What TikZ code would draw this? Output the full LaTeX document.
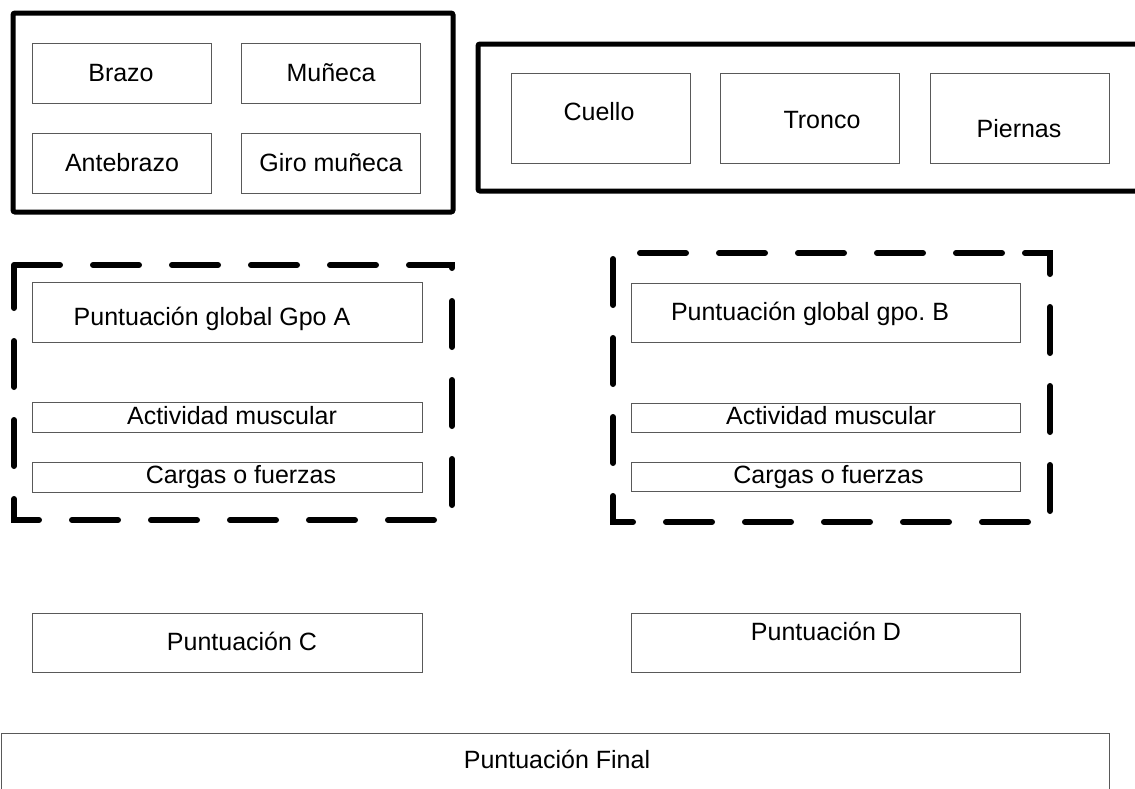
\documentclass[tikz,border=0pt]{standalone}
\usepackage{fontspec}
\setmainfont{Liberation Sans}
\usepackage{tikz}
\usetikzlibrary{positioning}

\tikzset{
  cell/.style    = {draw=black!65, line width=0.8pt, inner sep=0pt},
  txt/.style     = {inner sep=0pt, text height=17.9pt, text depth=0pt,
                    font=\fontsize{25}{29}\selectfont},
  groupbox/.style = {line width=5pt, rounded corners=2pt},
  dashbox/.style  = {line width=6pt, line cap=round, dash pattern=on 46pt off 33pt}
}

\begin{document}
\frenchspacing
\begin{tikzpicture}[x=1pt, y=-1pt]
  \useasboundingbox (0,0) rectangle (1135,788);
  \clip (0,0) rectangle (1135,788);

  % Group A
  \draw [groupbox] (13,13) rectangle (453,212);
  \node [cell, minimum width=179, minimum height=60] (brazo)     at (121.5, 73) {};
  \node [cell, minimum width=179, minimum height=60] (muneca)    at (331.0, 73) {};
  \node [cell, minimum width=179, minimum height=60] (antebrazo) at (121.5,163) {};
  \node [cell, minimum width=179, minimum height=60] (giro)      at (331.0,163) {};
  \node [txt] (brazoT)     at (121, 73) {Brazo};
  \node [txt] (munecaT)    at (331, 73) {Muñeca};
  \node [txt] (antebrazoT) at (122,163) {Antebrazo};
  \node [txt] (giroT)      at (331,163) {Giro muñeca};

  % Group B
  \draw [groupbox] (478,44) rectangle (1160,191);
  \node [cell, minimum width=179, minimum height=90] (cuello)  at ( 600.5,118) {};
  \node [cell, minimum width=179, minimum height=90] (tronco)  at ( 810.0,118) {};
  \node [cell, minimum width=179, minimum height=90] (piernas) at (1019.5,118) {};
  \node [txt] (cuelloT)  at ( 599,112) {Cuello};
  \node [txt] (troncoT)  at ( 822,120) {Tronco};
  \node [txt] (piernasT) at (1019,129) {Piernas};

  % Score A
  \draw [dashbox] (14,265) -- (452,265) -- (452,520) -- (14,520) -- cycle;
  \node [cell, minimum width=390, minimum height=60] (globalA)    at (227,312) {};
  \node [cell, minimum width=390, minimum height=30] (actividadA) at (227,417) {};
  \node [cell, minimum width=390, minimum height=30] (cargasA)    at (227,477) {};
  \node [txt] (globalAT)    at (212,317) {Puntuación global Gpo A};
  \node [txt] (actividadAT) at (232,416) {Actividad muscular};
  \node [txt] (cargasAT)    at (241,475) {Cargas o fuerzas};

  % Score B
  \draw [dashbox] (1025,253) -- (1050,253) -- (1050,522) -- (613,522) -- (613,253) -- cycle;
  \node [cell, minimum width=389, minimum height=59] (globalB)    at (825.5,312.5) {};
  \node [cell, minimum width=389, minimum height=29] (actividadB) at (825.5,417.5) {};
  \node [cell, minimum width=389, minimum height=29] (cargasB)    at (825.5,476.5) {};
  \node [txt] (globalBT)    at (810,311.5) {Puntuación global gpo. B};
  \node [txt] (actividadBT) at (831,416) {Actividad muscular};
  \node [txt] (cargasBT)    at (828.5,475) {Cargas o fuerzas};

  % Scores C, D and final
  \node [cell, minimum width=390, minimum height=59] (puntC) at (227,642.5) {};
  \node [cell, minimum width=389, minimum height=59] (puntD) at (825.5,642.5) {};
  \node [txt] (puntCT) at (242,642) {Puntuación C};
  \node [txt] (puntDT) at (826,632) {Puntuación D};

  \node [cell, minimum width=1108, minimum height=110] (final) at (555,788) {};
  \node [txt] (finalT) at (557,760) {Puntuación Final};
\end{tikzpicture}
\end{document}
